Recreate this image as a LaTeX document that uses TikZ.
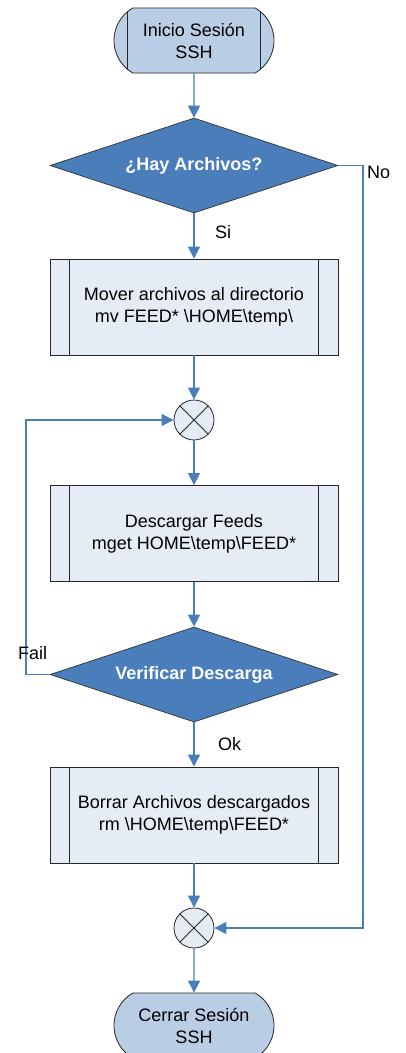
\documentclass[tikz,border=0pt]{standalone}
\usepackage{fontspec}
\setmainfont{Liberation Sans}
\usetikzlibrary{shapes.geometric,shapes.misc,arrows.meta}
\definecolor{linkblue}{HTML}{4A7EBB}
\definecolor{askblue}{HTML}{4A7EBB}
\definecolor{termfill}{HTML}{B9CDE5}
\definecolor{procfill}{HTML}{E6ECF6}
\newcommand\flowsize{\fontsize{18}{22}\selectfont}
\tikzset{
  terminal/.style={rounded rectangle, rounded rectangle arc length=120,
    draw=black!85, line width=0.8pt, fill=termfill, minimum width=160pt,
    minimum height=65pt, inner sep=0pt, align=center},
  startterm/.style={terminal, path picture={
    \draw[black!85, line width=0.8pt]
      ([xshift=19pt]path picture bounding box.north west) -- ([xshift=19pt]path picture bounding box.south west)
      ([xshift=-19pt]path picture bounding box.north east) -- ([xshift=-19pt]path picture bounding box.south east);}},
  process/.style={rectangle, draw=black!85, line width=0.8pt, fill=procfill,
    minimum width=288pt, minimum height=96pt, align=center, path picture={
    \draw[black!85, line width=0.8pt]
      ([xshift=19.5pt]path picture bounding box.north west) -- ([xshift=19.5pt]path picture bounding box.south west)
      ([xshift=-19.5pt]path picture bounding box.north east) -- ([xshift=-19.5pt]path picture bounding box.south east);}},
  decision/.style={diamond, aspect=3.03, draw=black!80, line width=0.7pt, fill=askblue,
    minimum width=288pt, minimum height=95pt, inner sep=0pt, text=white,
    font=\flowsize\bfseries},
  junction/.style={circle, draw=black!85, line width=0.8pt, fill=procfill,
    minimum size=40pt, inner sep=0pt, path picture={
    \draw[black!85, line width=0.8pt]
      (path picture bounding box.north west) -- (path picture bounding box.south east)
      (path picture bounding box.north east) -- (path picture bounding box.south west);}},
  flow/.style={draw=linkblue, line width=1.1pt, -{Triangle[length=12pt,width=12pt]}},
  answer/.style={anchor=west, inner sep=0pt}
}
\begin{document}
\begin{tikzpicture}[x=1pt, y=1pt, font=\flowsize]
  \useasboundingbox (0,0) rectangle (405,-1053);
  \node[startterm] (start) at (194,-40.5) {Inicio Sesión\\SSH};
  \node[decision] (files) at (194,-165.5) {¿Hay Archivos?};
  \node[process] (move) at (194,-307) {Mover archivos al directorio\\mv FEED* \textbackslash HOME\textbackslash temp\textbackslash};
  \node[junction] (merge1) at (194,-420) {};
  \node[process] (fetch) at (194,-533.5) {Descargar Feeds\\mget HOME\textbackslash temp\textbackslash FEED*};
  \node[decision] (verify) at (194,-674.5) {Verificar Descarga};
  \node[process] (remove) at (194,-815) {Borrar Archivos descargados\\rm \textbackslash HOME\textbackslash temp\textbackslash FEED*};
  \node[junction] (merge2) at (194,-928) {};
  \node[terminal] (close) at (194,-1025.5) {Cerrar Sesión\\SSH};

  \coordinate (nocorner) at (363,-165.5);
  \coordinate (failcorner) at (26,-674.5);

  \draw[flow] (start) -- (files);
  \draw[flow] (files) -- (move);
  \draw[flow] (files.east) -- (nocorner) |- (merge2.east);
  \draw[flow] (move) -- (merge1);
  \draw[flow] (merge1) -- (fetch);
  \draw[flow] (fetch) -- (verify);
  \draw[flow] (verify.west) -- (failcorner) |- (merge1.west);
  \draw[flow] (verify) -- (remove);
  \draw[flow] (remove) -- (merge2);
  \draw[flow] (merge2) -- (close);

  \node[answer] (nolabel) at (367,-172.5) {No};
  \node[answer] (silabel) at (215,-232.5) {Si};
  \node[answer] (faillabel) at (18,-653.5) {Fail};
  \node[answer] (oklabel) at (218,-744) {Ok};
\end{tikzpicture}
\end{document}
